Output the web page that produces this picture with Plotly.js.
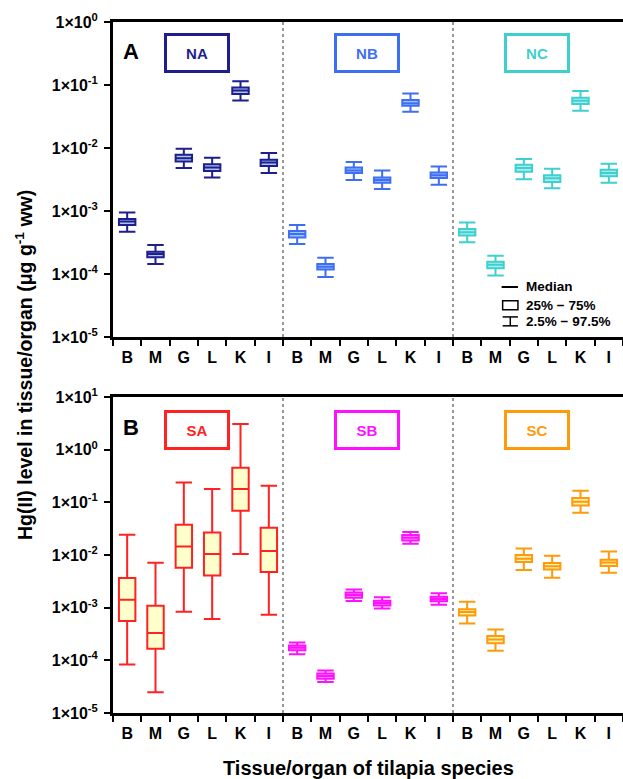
<!DOCTYPE html>
<html>
<head>
<meta charset="utf-8">
<script src="https://cdn.plot.ly/plotly-3.0.1.min.js"></script>
<style>html,body{margin:0;padding:0;background:#fff;}#chart{width:623px;height:779px;}</style>
</head>
<body>
<div id="chart"></div>
<script>
// ---------------- DATA ----------------
const tissues = ['B', 'M', 'G', 'L', 'K', 'I'];
const topGroups = ['NA', 'NB', 'NC'];
const bottomGroups = ['SA', 'SB', 'SC'];

// percentiles: p975 (upper whisker), q3, median, q1, p025 (lower whisker)
const NA_p975 = [9.5e-4, 2.9e-4, 9.7e-3, 7.0e-3, 0.115, 8.3e-3];
const NA_q3   = [7.5e-4, 2.25e-4, 7.8e-3, 5.5e-3, 0.091, 6.5e-3];
const NA_med  = [6.8e-4, 2.07e-4, 6.9e-3, 4.9e-3, 0.082, 5.9e-3];
const NA_q1   = [6.0e-4, 1.84e-4, 6.1e-3, 4.3e-3, 0.072, 5.2e-3];
const NA_p025 = [4.7e-4, 1.44e-4, 4.8e-3, 3.4e-3, 0.057, 4.0e-3];

const NB_p975 = [6.0e-4, 1.81e-4, 6.0e-3, 4.4e-3, 0.073, 5.1e-3];
const NB_q3   = [4.8e-4, 1.44e-4, 4.9e-3, 3.4e-3, 0.058, 4.1e-3];
const NB_med  = [4.3e-4, 1.30e-4, 4.4e-3, 3.1e-3, 0.0515, 3.7e-3];
const NB_q1   = [3.8e-4, 1.18e-4, 4.0e-3, 2.8e-3, 0.0467, 3.35e-3];
const NB_p025 = [3.0e-4, 9.0e-5, 3.1e-3, 2.24e-3, 0.0375, 2.6e-3];

const NC_p975 = [6.6e-4, 1.95e-4, 6.7e-3, 4.7e-3, 0.080, 5.65e-3];
const NC_q3   = [5.2e-4, 1.56e-4, 5.4e-3, 3.7e-3, 0.063, 4.5e-3];
const NC_med  = [4.6e-4, 1.40e-4, 4.8e-3, 3.3e-3, 0.056, 4.0e-3];
const NC_q1   = [4.1e-4, 1.24e-4, 4.2e-3, 2.9e-3, 0.050, 3.56e-3];
const NC_p025 = [3.2e-4, 9.5e-5, 3.2e-3, 2.3e-3, 0.039, 2.8e-3];

const SA_p975 = [0.0243, 7.1e-3, 0.239, 0.179, 3.07, 0.207];
const SA_q3   = [3.66e-3, 1.09e-3, 0.0377, 0.0268, 0.455, 0.033];
const SA_med  = [1.42e-3, 3.3e-4, 0.01456, 0.01045, 0.179, 0.0119];
const SA_q1   = [5.6e-4, 1.66e-4, 5.7e-3, 4.1e-3, 0.0693, 4.75e-3];
const SA_p025 = [8.3e-5, 2.47e-5, 8.4e-4, 6.1e-4, 0.01045, 7.3e-4];

const SB_p975 = [2.19e-4, 6.4e-5, 2.22e-3, 1.57e-3, 0.0274, 1.87e-3];
const SB_q3   = [1.92e-4, 5.65e-5, 1.95e-3, 1.36e-3, 0.024, 1.61e-3];
const SB_med  = [1.74e-4, 5.05e-5, 1.74e-3, 1.23e-3, 0.0213, 1.46e-3];
const SB_q1   = [1.55e-4, 4.49e-5, 1.55e-3, 1.10e-3, 0.0189, 1.32e-3];
const SB_p025 = [1.30e-4, 3.9e-5, 1.34e-3, 9.6e-4, 0.0164, 1.14e-3];

const SC_p975 = [1.30e-3, 3.87e-4, 0.0133, 9.7e-3, 0.166, 0.0117];
const SC_q3   = [9.3e-4, 2.9e-4, 0.0100, 7.05e-3, 0.121, 8.1e-3];
const SC_med  = [8.3e-4, 2.5e-4, 8.5e-3, 6.1e-3, 0.103, 7.2e-3];
const SC_q1   = [7.1e-4, 2.1e-4, 7.4e-3, 5.3e-3, 0.0875, 6.2e-3];
const SC_p025 = [5.0e-4, 1.52e-4, 5.2e-3, 3.7e-3, 0.0636, 4.6e-3];

const topTickVals = [1e-5, 1e-4, 1e-3, 1e-2, 1e-1, 1e0];
const topTickText = ['1×10<sup>-5</sup>', '1×10<sup>-4</sup>', '1×10<sup>-3</sup>', '1×10<sup>-2</sup>', '1×10<sup>-1</sup>', '1×10<sup>0</sup>'];
const botTickVals = [1e-5, 1e-4, 1e-3, 1e-2, 1e-1, 1e0, 1e1];
const botTickText = ['1×10<sup>-5</sup>', '1×10<sup>-4</sup>', '1×10<sup>-3</sup>', '1×10<sup>-2</sup>', '1×10<sup>-1</sup>', '1×10<sup>0</sup>', '1×10<sup>1</sup>'];

// ---------------- STYLE ----------------
const FONT = 'Liberation Sans, Arial, Helvetica, sans-serif';
const styles = {
  NA: {line: '#1E1E8C', fill: '#A9C3F2'},
  NB: {line: '#3E6FF2', fill: '#9EC4FF'},
  NC: {line: '#3FCFCF', fill: '#A8EDED'},
  SA: {line: '#FF2222', fill: '#FFFFCC'},
  SB: {line: '#FF10FF', fill: '#FF9CFF'},
  SC: {line: '#FF9A0A', fill: '#FFF1B0'}
};
const groupData = {
  NA: [NA_p025, NA_q1, NA_med, NA_q3, NA_p975],
  NB: [NB_p025, NB_q1, NB_med, NB_q3, NB_p975],
  NC: [NC_p025, NC_q1, NC_med, NC_q3, NC_p975],
  SA: [SA_p025, SA_q1, SA_med, SA_q3, SA_p975],
  SB: [SB_p025, SB_q1, SB_med, SB_q3, SB_p975],
  SC: [SC_p025, SC_q1, SC_med, SC_q3, SC_p975]
};

function makeTrace(name, gi, xa, ya) {
  const d = groupData[name];
  return {
    type: 'box', name: name,
    x: tissues.map((t, i) => gi * tissues.length + i),
    lowerfence: d[0], q1: d[1], median: d[2], q3: d[3], upperfence: d[4],
    xaxis: xa, yaxis: ya,
    width: 0.58, whiskerwidth: 1, boxpoints: false,
    line: {color: styles[name].line, width: 2},
    fillcolor: styles[name].fill,
    showlegend: false, hoverinfo: 'skip'
  };
}

const traces = [];
topGroups.forEach((g, gi) => traces.push(makeTrace(g, gi, 'x', 'y')));
bottomGroups.forEach((g, gi) => traces.push(makeTrace(g, gi, 'x2', 'y2')));

const nCat = tissues.length * topGroups.length;
const centers = [], labels = [], bounds = [];
for (let i = 0; i < nCat; i++) { centers.push(i); labels.push(tissues[i % tissues.length]); }
for (let i = 0; i <= nCat; i++) bounds.push(i - 0.5);

function xaxisDef(anchor) {
  return {
    anchor: anchor, domain: [0, 1], range: [-0.5, nCat - 0.5],
    tickmode: 'array', tickvals: centers, ticktext: labels, ticks: '',
    tickfont: {family: FONT, size: 16, color: '#000', weight: 'bold'},
    ticklabelstandoff: 4,
    showline: true, linewidth: 3, linecolor: '#000', mirror: true,
    showgrid: false, zeroline: false,
    minor: {tickmode: 'array', tickvals: bounds, ticks: 'outside', ticklen: 6, tickwidth: 2, tickcolor: '#000', showgrid: false}
  };
}
function yaxisDef(anchor, domain, range, tv, tt) {
  return {
    anchor: anchor, domain: domain, type: 'log', range: range,
    tickmode: 'array', tickvals: tv, ticktext: tt,
    ticks: 'outside', ticklen: 6, tickwidth: 2, tickcolor: '#000',
    tickfont: {family: FONT, size: 16, color: '#000', weight: 'bold'},
    ticklabelstandoff: 3,
    showline: true, linewidth: 3, linecolor: '#000', mirror: false,
    showgrid: false, zeroline: false
  };
}

const shapes = [];
[5.5, 11.5].forEach(v => {
  shapes.push({type: 'line', xref: 'x', yref: 'y domain', x0: v, x1: v, y0: 0, y1: 1, line: {color: '#333', width: 1, dash: 'dot'}});
  shapes.push({type: 'line', xref: 'x2', yref: 'y2 domain', x0: v, x1: v, y0: 0, y1: 1, line: {color: '#333', width: 1, dash: 'dot'}});
});
// legend key symbols (paper coordinates)
const blk = {color: '#000', width: 1.5};
shapes.push({type: 'line', xref: 'paper', yref: 'paper', x0: 0.762, x1: 0.794, y0: 0.6165, y1: 0.6165, line: {color: '#000', width: 2}});
shapes.push({type: 'rect', xref: 'paper', yref: 'paper', x0: 0.764, x1: 0.794, y0: 0.5835, y1: 0.5965, line: blk});
shapes.push({type: 'line', xref: 'paper', yref: 'paper', x0: 0.764, x1: 0.794, y0: 0.5732, y1: 0.5732, line: blk});
shapes.push({type: 'line', xref: 'paper', yref: 'paper', x0: 0.764, x1: 0.794, y0: 0.5603, y1: 0.5603, line: blk});
shapes.push({type: 'line', xref: 'paper', yref: 'paper', x0: 0.779, x1: 0.779, y0: 0.5603, y1: 0.5732, line: blk});

const annotations = [];
function groupBox(name, xref, yref, x, y) {
  annotations.push({
    text: '<b>' + name + '</b>', xref: xref, yref: yref, x: x, y: y,
    xanchor: 'center', yanchor: 'middle',
    showarrow: false, width: 60, height: 34, borderpad: 0,
    bordercolor: styles[name].line, borderwidth: 3,
    font: {family: FONT, size: 15, color: styles[name].line}
  });
}
topGroups.forEach((g, gi) => groupBox(g, 'x', 'y domain', gi * 6 + 2.47, 0.902));
bottomGroups.forEach((g, gi) => groupBox(g, 'x2', 'y2 domain', gi * 6 + 2.47, 0.896));

annotations.push({text: '<b>A</b>', xref: 'paper', yref: 'paper', x: 0.035, y: 0.957, xanchor: 'center', yanchor: 'middle', showarrow: false, font: {family: FONT, size: 22, color: '#000'}});
annotations.push({text: '<b>B</b>', xref: 'paper', yref: 'paper', x: 0.035, y: 0.4135, xanchor: 'center', yanchor: 'middle', showarrow: false, font: {family: FONT, size: 22, color: '#000'}});

const legFont = {family: FONT, size: 13.5, color: '#000', weight: 'bold'};
annotations.push({text: 'Median', xref: 'paper', yref: 'paper', x: 0.806, y: 0.6165, xanchor: 'left', yanchor: 'middle', showarrow: false, font: legFont});
annotations.push({text: '25% − 75%', xref: 'paper', yref: 'paper', x: 0.806, y: 0.590, xanchor: 'left', yanchor: 'middle', showarrow: false, font: legFont});
annotations.push({text: '2.5% − 97.5%', xref: 'paper', yref: 'paper', x: 0.806, y: 0.5665, xanchor: 'left', yanchor: 'middle', showarrow: false, font: legFont});

annotations.push({text: '<b>Hg(II) level in tissue/organ (μg g<sup>-1</sup> ww)</b>', xref: 'paper', yref: 'paper',
  x: -0.176, y: 0.504, xanchor: 'center', yanchor: 'middle', textangle: -90, showarrow: false, font: {family: FONT, size: 19.5, color: '#000'}});
annotations.push({text: '<b>Tissue/organ of tilapia species</b>', xref: 'paper', yref: 'paper',
  x: 0.5, y: -0.0795, xanchor: 'center', yanchor: 'middle', showarrow: false, font: {family: FONT, size: 20, color: '#000'}});

const layout = {
  width: 623, height: 779,
  margin: {l: 113, r: 0, t: 22, b: 66},
  paper_bgcolor: '#fff', plot_bgcolor: '#fff',
  showlegend: false,
  xaxis: xaxisDef('y'),
  yaxis: yaxisDef('x', [0.5441, 1], [-5, 0], topTickVals, topTickText),
  xaxis2: xaxisDef('y2'),
  yaxis2: yaxisDef('x2', [0, 0.4573], [-5, 1], botTickVals, botTickText),
  shapes: shapes,
  annotations: annotations
};

Plotly.newPlot('chart', traces, layout, {staticPlot: true, displayModeBar: false});
</script>
</body>
</html>
